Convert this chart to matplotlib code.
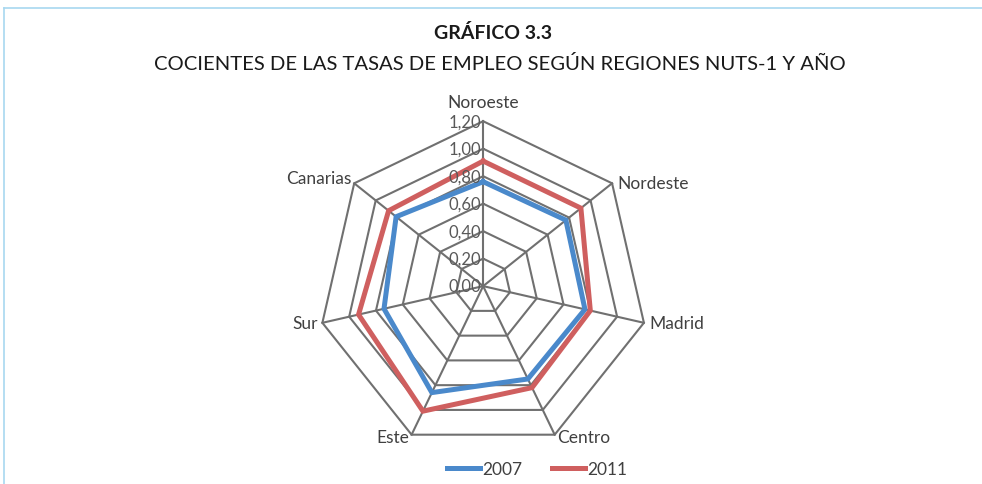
import numpy as np
import matplotlib
matplotlib.use("Agg")
import matplotlib.pyplot as plt
from matplotlib.lines import Line2D

plt.rcParams['font.family'] = ['Lato', 'DejaVu Sans']

categories = ['Noroeste', 'Nordeste', 'Madrid', 'Centro', 'Este', 'Sur', 'Canarias']
vals_2007 = [0.76, 0.77, 0.76, 0.75, 0.86, 0.74, 0.81]
vals_2011 = [0.91, 0.91, 0.80, 0.82, 1.01, 0.93, 0.88]
ring_ticks = [0.0, 0.2, 0.4, 0.6, 0.8, 1.0, 1.2]
ring_labels = ['0,00', '0,20', '0,40', '0,60', '0,80', '1,00', '1,20']

n = len(categories)
theta = np.linspace(0, 2 * np.pi, n, endpoint=False)
theta_c = np.append(theta, theta[0])

fig = plt.figure(figsize=(9.82, 4.85), dpi=100)
ax = fig.add_axes([0.324, 0.068, 0.336, 0.680], projection='polar')
ax.set_theta_zero_location('N')
ax.set_theta_direction(-1)
ax.set_ylim(0, 1.2)
ax.grid(False)
ax.spines['polar'].set_visible(False)
ax.set_xticks([])
ax.set_yticks([])
ax.patch.set_alpha(0)

grid_col = '#707070'
# heptagon rings
for r in ring_ticks[1:]:
    ax.plot(theta_c, [r] * (n + 1), color=grid_col, lw=1.5, zorder=1, clip_on=False)
# spokes
for t in theta:
    ax.plot([t, t], [0, 1.2], color=grid_col, lw=1.5, zorder=1, clip_on=False)

# series
ax.plot(theta_c, vals_2007 + vals_2007[:1], color='#4A89CB', lw=3.6, zorder=3,
        solid_joinstyle='miter', label='2007', clip_on=False)
ax.plot(theta_c, vals_2011 + vals_2011[:1], color='#CF5F5F', lw=3.6, zorder=3,
        solid_joinstyle='miter', label='2011', clip_on=False)

txt_col = '#404040'
# radial labels along the top spoke
for r, lab in zip(ring_ticks, ring_labels):
    ax.annotate(lab, xy=(0, r), xytext=(-1.5, 0), textcoords='offset points',
                ha='right', va='center', fontsize=12, color='#595959', zorder=4)

# category labels
offsets = [(0, 8, 'center', 'bottom'),
           (4, 0, 'left', 'center'),
           (4, 0, 'left', 'center'),
           (2, -2, 'left', 'center'),
           (-2, -2, 'right', 'center'),
           (-3, 0, 'right', 'center'),
           (-2, 4, 'right', 'center')]
for t, cat, (dx, dy, ha, va) in zip(theta, categories, offsets):
    ax.annotate(cat, xy=(t, 1.2), xytext=(dx, dy), textcoords='offset points',
                ha=ha, va=va, fontsize=12.5, color=txt_col)

# titles
fig.text(0.502, 0.932, 'GRÁFICO 3.3', ha='center', va='center', fontsize=14,
         fontweight='bold', color='#1a1a1a')
fig.text(0.509, 0.868, 'COCIENTES DE LAS TASAS DE EMPLEO SEGÚN REGIONES NUTS-1 Y AÑO',
         ha='center', va='center', fontsize=14.6, color='#1a1a1a')

# legend
fig.legend(loc='center', bbox_to_anchor=(0.547, 0.031), ncol=2, frameon=False,
           fontsize=12.5, handlelength=1.9, handletextpad=0.15, columnspacing=1.7,
           labelcolor=txt_col)

# light frame
fig.add_artist(Line2D([0.004, 1.0], [0.981, 0.981], color='#a8d8f0', lw=1.2))
fig.add_artist(Line2D([0.004, 0.004], [0.0, 0.981], color='#a8d8f0', lw=1.2))

fig.savefig('out.png', dpi=100)
